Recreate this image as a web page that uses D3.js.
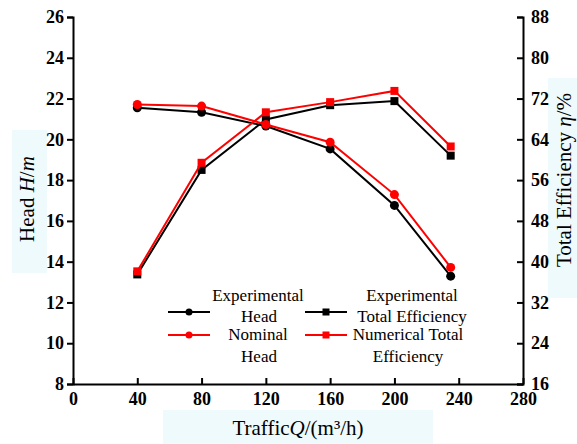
<!DOCTYPE html>
<html>
<head>
<meta charset="utf-8">
<script src="https://cdn.jsdelivr.net/npm/d3@7"></script>
<style>
  html, body { margin: 0; padding: 0; background: #fff; }
  svg { display: block; }
</style>
</head>
<body>
<script>
// Flow rate (m³/h) at each operating point
const flow = [40, 80, 120, 160, 200, 235];
// Head (m)
const expHead = [21.55, 21.33, 20.65, 19.53, 16.76, 13.29];
const nomHead = [21.71, 21.63, 20.73, 19.86, 17.29, 13.72];
// Total efficiency (%)
const expEff = [37.5, 58.0, 67.9, 70.7, 71.5, 60.8];
const numEff = [38.1, 59.4, 69.3, 71.3, 73.5, 62.6];

// Axis ticks
const xTicks = [0, 40, 80, 120, 160, 200, 240, 280];
const headTicks = [8, 10, 12, 14, 16, 18, 20, 22, 24, 26];
const effTicks = [16, 24, 32, 40, 48, 56, 64, 72, 80, 88];

const SERIF = "'Liberation Serif', 'Times New Roman', serif";
const W = 577, H = 444;
const plot = { left: 73, right: 523, top: 17, bottom: 384 };

const svg = d3.select("body").append("svg").attr("width", W).attr("height", H);

const x = d3.scaleLinear().domain([0, 280]).range([plot.left, plot.right]);
const yH = d3.scaleLinear().domain([8, 26]).range([plot.bottom, plot.top]);
const yE = d3.scaleLinear().domain([16, 88]).range([plot.bottom, plot.top]);

// pale panels behind the axis titles
const panel = "#eefafc";
svg.append("rect").attr("x", 12).attr("y", 130).attr("width", 35).attr("height", 143).attr("fill", panel);
svg.append("rect").attr("x", 548).attr("y", 78).attr("width", 29).attr("height", 220).attr("fill", panel);
svg.append("rect").attr("x", 163).attr("y", 410).attr("width", 270).attr("height", 34).attr("fill", panel);

function styleAxis(g) {
  g.attr("font-family", null).attr("font-size", null);
  g.selectAll(".domain").attr("stroke", "#000").attr("stroke-width", 2);
  g.selectAll(".tick line").attr("stroke", "#000").attr("stroke-width", 2);
  g.selectAll(".tick text")
    .style("font-family", SERIF)
    .style("font-weight", "bold")
    .style("font-size", "18px")
    .attr("fill", "#000");
}

// bottom axis, ticks pointing into the plot
svg.append("g")
  .attr("transform", `translate(0,${plot.bottom})`)
  .call(d3.axisBottom(x).tickValues(xTicks).tickSizeInner(-6).tickSizeOuter(0).tickPadding(8))
  .call(styleAxis)
  .call(g => g.selectAll(".tick text").attr("dy", "0.72em"));

// left axis: head
svg.append("g")
  .attr("transform", `translate(${plot.left},0)`)
  .call(d3.axisLeft(yH).tickValues(headTicks).tickSizeInner(6).tickSizeOuter(6).tickPadding(3))
  .call(styleAxis);

// right axis: efficiency, ticks pointing into the plot
svg.append("g")
  .attr("transform", `translate(${plot.right},0)`)
  .call(d3.axisRight(yE).tickValues(effTicks).tickSizeInner(-6).tickSizeOuter(-6).tickPadding(8))
  .call(styleAxis);

// axis titles
function title(sel) {
  return sel.style("font-family", SERIF).style("font-size", "21px").attr("fill", "#000")
    .attr("text-anchor", "middle");
}
const left = title(svg.append("text").attr("transform", `translate(34,199) rotate(-90)`));
left.append("tspan").text("Head ");
left.append("tspan").attr("font-style", "italic").text("H");
left.append("tspan").text("/");
left.append("tspan").attr("font-style", "italic").text("m");

const right = title(svg.append("text").attr("transform", `translate(571,180) rotate(-90)`));
right.append("tspan").text("Total Efficiency ");
right.append("tspan").attr("font-style", "italic").text("η");
right.append("tspan").text("/%");

const bottom = title(svg.append("text").attr("x", 298).attr("y", 435));
bottom.append("tspan").text("Traffic");
bottom.append("tspan").attr("font-style", "italic").text("Q");
bottom.append("tspan").text("/(m³/h)");

// series
const series = [
  { values: expHead, y: yH, color: "#000", shape: "circle" },
  { values: expEff, y: yE, color: "#000", shape: "square" },
  { values: nomHead, y: yH, color: "#ff0000", shape: "circle" },
  { values: numEff, y: yE, color: "#ff0000", shape: "square" }
];

series.forEach(s => {
  const pts = flow.map((q, i) => [x(q), s.y(s.values[i])]);
  svg.append("path")
    .attr("d", d3.line()(pts))
    .attr("fill", "none")
    .attr("stroke", s.color)
    .attr("stroke-width", 2);
  const g = svg.append("g");
  if (s.shape === "circle") {
    g.selectAll("circle").data(pts).join("circle")
      .attr("cx", d => d[0]).attr("cy", d => d[1]).attr("r", 4.5)
      .attr("fill", s.color);
  } else {
    g.selectAll("rect").data(pts).join("rect")
      .attr("x", d => d[0] - 4).attr("y", d => d[1] - 4)
      .attr("width", 8).attr("height", 8)
      .attr("fill", s.color);
  }
});

// legend
const legendItems = [
  { x0: 168, x1: 210, y: 312, color: "#000", shape: "circle" },
  { x0: 168, x1: 210, y: 335, color: "#ff0000", shape: "circle" },
  { x0: 305, x1: 347, y: 312, color: "#000", shape: "square" },
  { x0: 305, x1: 347, y: 335, color: "#ff0000", shape: "square" }
];
legendItems.forEach(it => {
  svg.append("line")
    .attr("x1", it.x0).attr("x2", it.x1).attr("y1", it.y).attr("y2", it.y)
    .attr("stroke", it.color).attr("stroke-width", 2);
  const cx = (it.x0 + it.x1) / 2;
  if (it.shape === "circle") {
    svg.append("circle").attr("cx", cx).attr("cy", it.y).attr("r", 3.5).attr("fill", it.color);
  } else {
    svg.append("rect").attr("x", cx - 3.5).attr("y", it.y - 3.5).attr("width", 7).attr("height", 7).attr("fill", it.color);
  }
});

const legendText = [
  { t: "Experimental", x: 258, y: 301 },
  { t: "Head", x: 259, y: 322 },
  { t: "Nominal", x: 258, y: 340 },
  { t: "Head", x: 259, y: 362 },
  { t: "Experimental", x: 412, y: 301 },
  { t: "Total Efficiency", x: 412, y: 322 },
  { t: "Numerical Total", x: 408, y: 340 },
  { t: "Efficiency", x: 408, y: 362 }
];
svg.selectAll("text.legend").data(legendText).join("text")
  .attr("class", "legend")
  .attr("x", d => d.x).attr("y", d => d.y)
  .attr("text-anchor", "middle")
  .style("font-family", SERIF)
  .style("font-size", "17px")
  .attr("fill", "#000")
  .text(d => d.t);
</script>
</body>
</html>
